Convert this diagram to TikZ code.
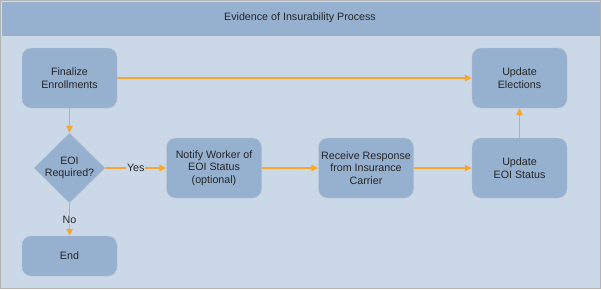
\documentclass[tikz,border=0pt]{standalone}
\usepackage{fontspec}
\setmainfont{Liberation Sans}
\usetikzlibrary{arrows.meta,shapes.geometric}

\definecolor{headblue}{RGB}{150,176,207}
\definecolor{paneblue}{RGB}{203,216,231}
\definecolor{boxblue}{RGB}{150,176,207}
\definecolor{boxedge}{RGB}{188,197,208}
\definecolor{flow}{RGB}{247,168,44}
\definecolor{framegray}{RGB}{178,178,178}

\begin{document}
\begin{tikzpicture}[x=1pt,y=-1pt,
    every node/.style={font=\fontsize{10.7}{12.7}\selectfont,text=black!85},
    task/.style={draw=boxedge,fill=boxblue,rounded corners=9pt,
      minimum width=95pt,minimum height=60pt,align=center,inner sep=2pt},
    decide/.style={diamond,draw=boxedge,fill=boxblue,
      minimum width=71pt,minimum height=70pt,inner sep=0pt},
    flowlabel/.style={fill=paneblue,inner sep=1pt,text=black!85}]
    \useasboundingbox (0,0) rectangle (601,289);
    % panel and header
    \fill[paneblue] (1,36) rectangle (600,288);
    \filldraw[fill=headblue,draw=white!55!headblue,line width=0.8pt] (1,1) rectangle (600,36);
    \draw[framegray,line width=1.2pt] (0.6,0.6) rectangle (600.4,288.4);
    \node (title) at (300,18) {Evidence of Insurability Process};
    % steps
    \node[task] (fin) at (69.5,78) {Finalize\\Enrollments};
    \node[decide,label={[align=center]center:EOI\\Required?}] (req) at (69.5,168) {};
    \node[task,minimum height=40pt] (done) at (69.5,256) {End};
    \node[task] (notify) at (214,168) {Notify Worker of\\EOI Status\\(optional)};
    \node[task] (recv) at (366,168) {Receive Response\\from Insurance\\Carrier};
    \node[task] (eoi) at (519.5,168) {Update\\EOI Status};
    \node[task] (elect) at (519.5,78) {Update\\Elections};
    \path[->,color=flow,line width=1.1pt,>={Triangle[length=7pt,width=6.5pt]}]
      (fin) edge (elect)
      (fin) edge (req)
      (req) edge node[flowlabel]{Yes} (notify)
      (req) edge node[flowlabel]{No} (done)
      (notify) edge (recv)
      (recv) edge (eoi)
      (eoi) edge (elect);
\end{tikzpicture}
\end{document}
